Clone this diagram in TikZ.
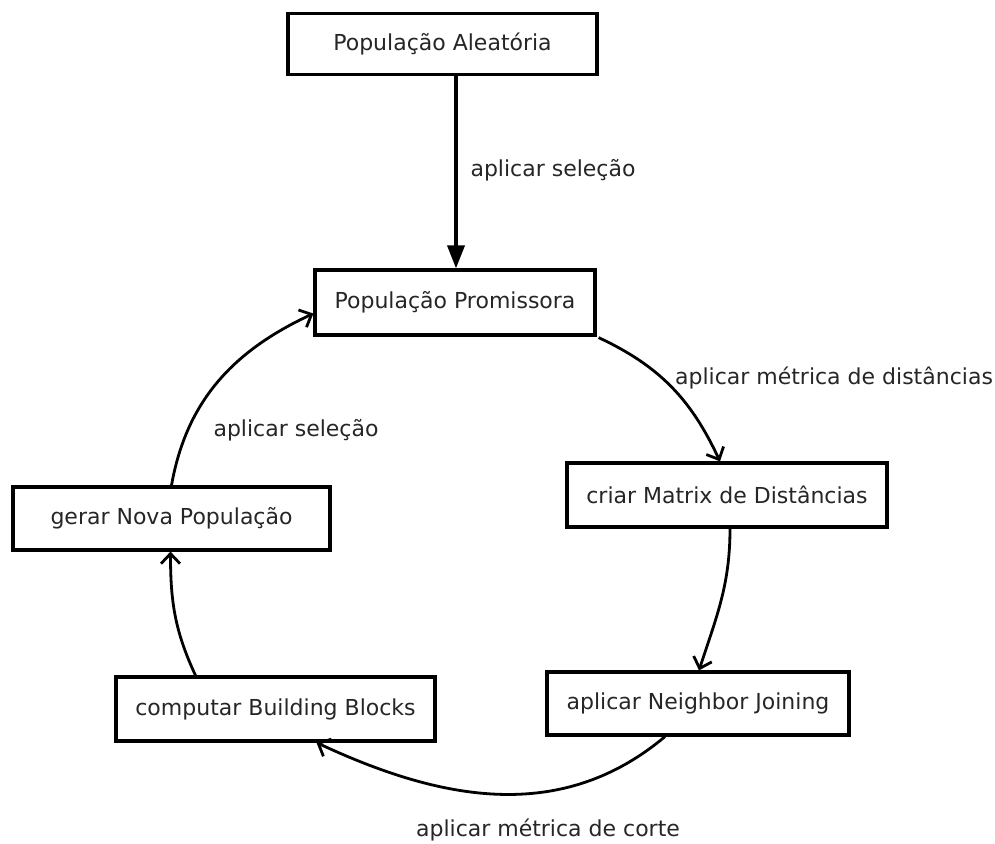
\documentclass[tikz,border=0pt]{standalone}
\usepackage{fontspec}
\setmainfont{DejaVu Sans}
\usetikzlibrary{arrows.meta}
\begin{document}
\begin{tikzpicture}[x=1pt,y=-1pt,
  box/.style={draw=black,line width=3.2pt,fill=white,inner sep=0pt,text=black!85,font=\fontsize{22}{25}\selectfont},
  lbl/.style={inner sep=0pt,text=black!85,font=\fontsize{22}{25}\selectfont},
  conn/.style={line width=2.8pt,-{Straight Barb[length=10pt,width=19pt,line width=2.8pt]}},
  mainarr/.style={line width=3.6pt,-{Triangle[length=23pt,width=17pt]}}]
\useasboundingbox (0,0) rectangle (995,843);
\node[box,minimum width=309pt,minimum height=61pt] (ale) at (442.5,44) {População Aleatória};
\node[box,minimum width=280pt,minimum height=65pt] (pro) at (455,302.5) {População Promissora};
\node[box,minimum width=320pt,minimum height=64pt] (mat) at (727,495) {criar Matrix de Distâncias};
\node[box,minimum width=302pt,minimum height=63pt] (nei) at (698,703.5) {aplicar Neighbor Joining};
\node[box,minimum width=319pt,minimum height=64pt] (bui) at (275.5,709) {computar Building Blocks};
\node[box,minimum width=317pt,minimum height=63pt] (nov) at (171.5,518.5) {gerar Nova População};
\node[lbl] (l1) at (553,170) {aplicar seleção};
\node[lbl] (l2) at (834,378) {aplicar métrica de distâncias};
\node[lbl] (l3) at (296,430) {aplicar seleção};
\node[lbl] (l4) at (548,830) {aplicar métrica de corte};
\coordinate (a0) at ([xshift=1pt]pro.north |- ale.south);
\draw[mainarr] (a0) -- ([xshift=1pt]pro.north);
\draw[conn] ([shift={(2pt,-1pt)}]pro.south east) to[out=-25,in=115] ([xshift=-7pt]mat.north);
\draw[conn] ([xshift=3pt]mat.south) to[out=-90,in=72] ([xshift=1pt]nei.north);
\draw[conn] ([xshift=-33pt]nei.south) to[out=-140,in=-25] ([xshift=41pt]bui.south);
\draw[conn] ([xshift=-80pt]bui.north) to[out=115,in=-90] ([xshift=-1pt]nov.north |- nov.south);
\draw[conn] ([xshift=0pt]nov.north) to[out=80,in=205] ([yshift=-11pt]pro.west);
\end{tikzpicture}
\end{document}
